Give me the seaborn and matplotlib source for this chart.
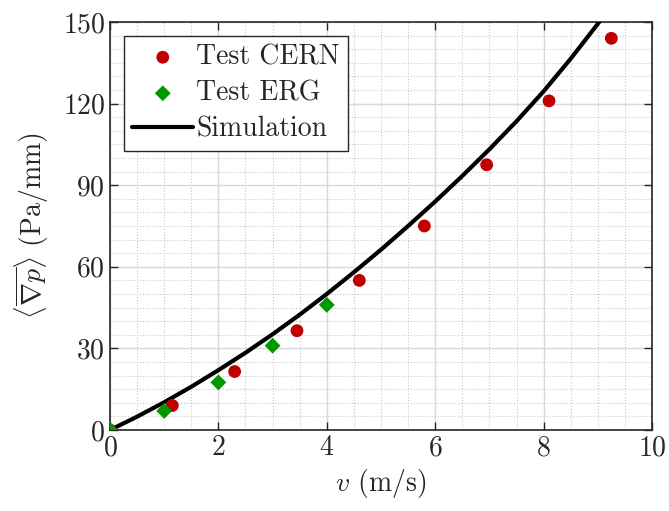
import numpy as np
import pandas as pd
import matplotlib
matplotlib.use("Agg")
import matplotlib.pyplot as plt
import seaborn as sns
from matplotlib.ticker import MultipleLocator

# data
cern_v = [0, 1.15, 2.3, 3.45, 4.6, 5.8, 6.95, 8.1, 9.25]
cern_dp = [0, 9, 21.5, 36.5, 55, 75, 97.5, 121, 144]

erg_v = [0, 1, 2, 3, 4]
erg_dp = [0, 7, 17.5, 31, 46]

sim_v = [0, 0.5, 1, 1.5, 2, 2.5, 3, 3.5, 4, 4.5, 5, 5.5, 6, 6.5, 7, 7.5, 8, 8.5, 9, 9.5]
sim_dp = [0, 4.9, 10.2, 15.9, 22, 28.4, 35.2, 42.4, 50, 58, 66.3, 75, 84, 93.4,
          103.2, 113.5, 124.5, 136.5, 149.3, 163]

sns.set_style("ticks")
plt.rcParams['font.family'] = 'serif'
plt.rcParams['font.serif'] = ['cmr10', 'DejaVu Serif']
plt.rcParams['mathtext.fontset'] = 'cm'
plt.rcParams['axes.formatter.use_mathtext'] = True
plt.rcParams['axes.unicode_minus'] = False

fig = plt.figure(figsize=(6.69, 5.11), dpi=100)
ax = fig.add_axes([0.1644, 0.1585, 0.8102, 0.7985])

sim = pd.DataFrame({'v': sim_v, 'dp': sim_dp})
cern = pd.DataFrame({'v': cern_v, 'dp': cern_dp})
erg = pd.DataFrame({'v': erg_v, 'dp': erg_dp})

sns.lineplot(data=sim, x='v', y='dp', ax=ax, color='black', lw=3,
             label='Simulation', zorder=3, sort=False)
sns.scatterplot(data=cern, x='v', y='dp', ax=ax, color='#c00000', marker='o',
                s=85, edgecolor='none', label='Test CERN', zorder=4)
sns.scatterplot(data=erg, x='v', y='dp', ax=ax, color='#009900', marker='D',
                s=65, edgecolor='none', label='Test ERG', zorder=4)

ax.set_xlim(0, 10)
ax.set_ylim(0, 150)
ax.xaxis.set_major_locator(MultipleLocator(2))
ax.xaxis.set_minor_locator(MultipleLocator(0.5))
ax.yaxis.set_major_locator(MultipleLocator(30))
ax.yaxis.set_minor_locator(MultipleLocator(5))

ax.grid(which='major', color='#d8d8d8', lw=1.0, ls='-', zorder=0)
ax.grid(which='minor', color='#c8c8c8', lw=0.8, ls=':', zorder=0)
ax.set_axisbelow(True)

ax.tick_params(which='both', direction='in', top=True, right=True,
               labelsize=20, colors='#262626', width=1)
ax.tick_params(which='major', length=6)
ax.tick_params(which='minor', length=0)
for sp in ax.spines.values():
    sp.set_color('#262626')
    sp.set_linewidth(1.2)
    sp.set_visible(True)

ax.set_xlabel(r'$v$ (m/s)', fontsize=20, labelpad=4)
ax.set_ylabel(r'$\langle\overline{\nabla p}\rangle$ (Pa/mm)', fontsize=20, labelpad=8)

h, l = ax.get_legend_handles_labels()
order = [l.index('Test CERN'), l.index('Test ERG'), l.index('Simulation')]
leg = ax.legend([h[i] for i in order], [l[i] for i in order], loc='upper left',
                fontsize=20, frameon=True, fancybox=False, edgecolor='#262626',
                framealpha=1, handlelength=2.2, handletextpad=0.1,
                borderpad=0.3, labelspacing=0.35, borderaxespad=0.5)
leg.get_frame().set_linewidth(1.0)

fig.savefig('out.png', dpi=100)
